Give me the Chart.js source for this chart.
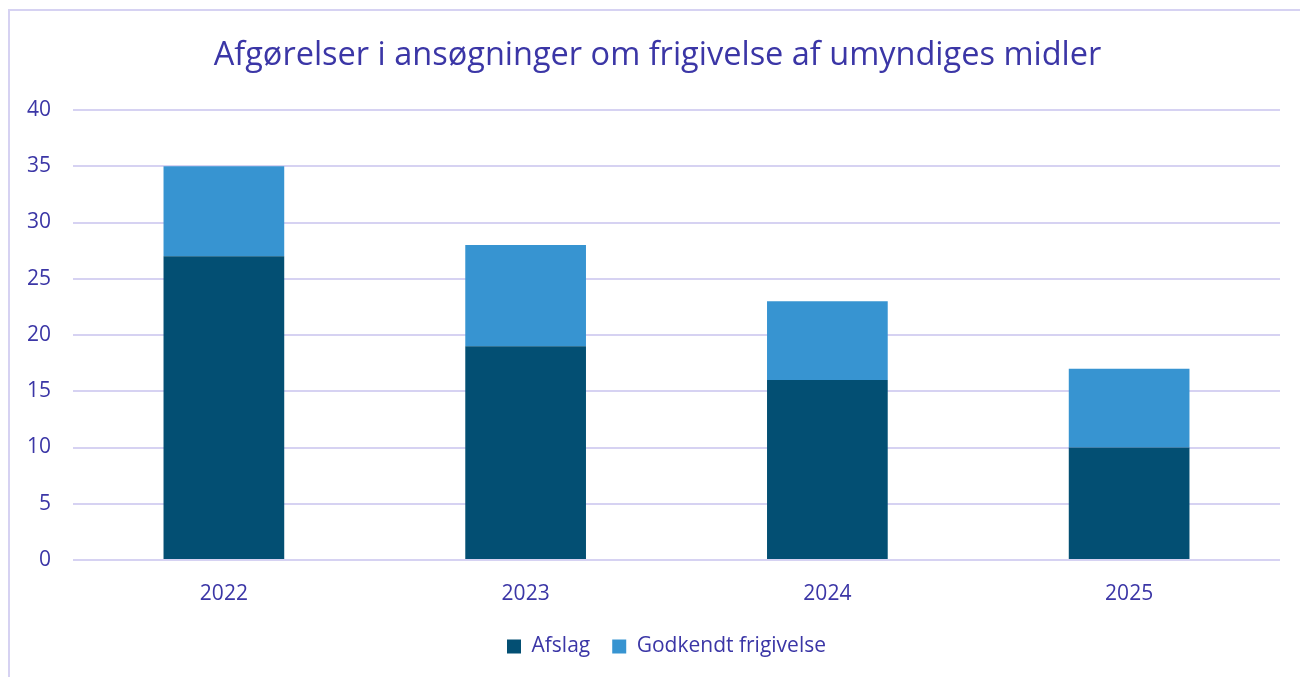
<!DOCTYPE html>
<html><head><meta charset="utf-8">
<script src="https://cdn.jsdelivr.net/npm/chart.js@4/dist/chart.umd.min.js"></script>
<style>
html,body{margin:0;padding:0;background:#fff;overflow:hidden;}
#frame{position:absolute;left:8px;top:9px;width:1320px;height:720px;border:2px solid #d6d2f2;box-sizing:border-box;}
#wrap{position:absolute;left:0;top:0;width:1300px;height:677px;}
</style></head>
<body>
<div id="frame"></div>
<div id="wrap"><canvas id="c" width="1300" height="677"></canvas></div>
<script>
const categories = ["2022","2023","2024","2025"];
const afslag = [27,19,16,10];
const godkendt = [8,9,7,7];
const seriesNames = ["Afslag","Godkendt frigivelse"];
const titleText = "Afgørelser i ansøgninger om frigivelse af umyndiges midler";
const txt = "#3b36a6";
const fam = "'Open Sans', 'Noto Sans', sans-serif";
const shiftBoxes = {
  id:'shiftBoxes',
  afterLayout(chart){
    if (chart.legend){ chart.legend.left += 14; chart.legend.right += 14; }
    if (chart.titleBlock){ chart.titleBlock.left += 5; chart.titleBlock.right += 5; }
  }
};
new Chart(document.getElementById('c'), {
  type:'bar',
  data:{labels:categories,datasets:[
    {label:seriesNames[0],data:afslag,backgroundColor:'#034f73',barPercentage:0.4,categoryPercentage:1},
    {label:seriesNames[1],data:godkendt,backgroundColor:'#3794d1',barPercentage:0.4,categoryPercentage:1}
  ]},
  options:{
    responsive:false,animation:false,
    layout:{padding:{left:25,right:20,top:36,bottom:10}},
    plugins:{
      title:{display:true,text:titleText,color:txt,font:{family:fam,size:32.5,weight:'normal'},padding:{top:0,bottom:35}},
      legend:{position:'bottom',maxHeight:60,labels:{color:txt,font:{family:fam,size:21},boxWidth:14,boxHeight:14,padding:22}},
      tooltip:{enabled:false}
    },
    scales:{
      x:{stacked:true,grid:{display:false},border:{display:false},afterFit:s=>{s.height=54;},ticks:{color:txt,font:{family:fam,size:21},padding:13}},
      y:{stacked:true,min:0,max:40,afterFit:s=>{s.width=48;},
         grid:{color:'#d6d2f2',lineWidth:2,drawTicks:false},border:{display:false},
         ticks:{stepSize:5,color:txt,font:{family:fam,size:21},padding:22}}
    }
  },
  plugins:[shiftBoxes]
});
</script>
</body></html>
